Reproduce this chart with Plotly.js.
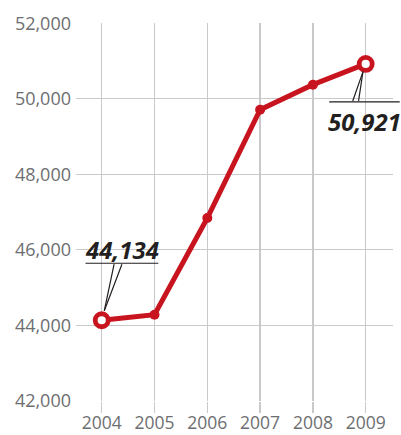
<!DOCTYPE html>
<html>
<head>
<meta charset="utf-8">
<script src="https://cdn.plot.ly/plotly-3.0.1.min.js"></script>
<style>html,body{margin:0;padding:0;background:#fff;}#chart{width:401px;height:435px;}</style>
</head>
<body>
<div id="chart"></div>
<script>
const years = [2004, 2005, 2006, 2007, 2008, 2009];
const values = [44134, 44280, 46840, 49708, 50372, 50921];
const yTicks = [42000, 44000, 46000, 48000, 50000, 52000];

const red = '#c8141e';
const dark = '#231f20';
const grid = '#c9c9cb';
const tickGray = '#6d6e71';

const n = values.length;
const endX = [years[0], years[n - 1]];
const endY = [values[0], values[n - 1]];

const lineTrace = {
  x: years, y: values, type: 'scatter', mode: 'lines+markers',
  line: {color: red, width: 5},
  marker: {color: red, size: 10, opacity: 1},
  cliponaxis: false, hoverinfo: 'none'
};
const endTrace = {
  x: endX, y: endY, type: 'scatter', mode: 'markers',
  marker: {color: '#ffffff', size: 13, opacity: 1, line: {color: red, width: 4.8}},
  cliponaxis: false, hoverinfo: 'none'
};

const fmt = v => v.toLocaleString('en-US');
const lineAnn = (x, y, xs, ys, ax, ay) => ({
  x: x, y: y, xref: 'x', yref: 'y', text: ' ', font: {size: 1},
  showarrow: true, arrowhead: 0, arrowwidth: 1.2, arrowcolor: dark,
  ax: ax, ay: ay, xshift: xs, yshift: ys, standoff: 0, startstandoff: 0, borderpad: 0
});

const x0 = endX[0], y0 = endY[0], x1 = endX[1], y1 = endY[1];
const annotations = [
  {x: x0, y: y0, xref: 'x', yref: 'y', text: '<b><i>' + fmt(y0) + '</i></b>', showarrow: false,
   xshift: 20, yshift: 71, font: {family: 'Open Sans', size: 24, color: dark}},
  lineAnn(x0, y0, 56.6, 57, -73.3, 0),
  lineAnn(x0, y0, 2.6, 9.5, 10, -47.5),
  lineAnn(x0, y0, 2.6, 9.5, 18, -47.5),
  {x: x1, y: y1, xref: 'x', yref: 'y', text: '<b><i>' + fmt(y1) + '</i></b>', showarrow: false,
   xshift: -1, yshift: -58, font: {family: 'Open Sans', size: 24, color: dark}},
  lineAnn(x1, y1, 34, -38, -71, 0),
  lineAnn(x1, y1, -2.7, -7.7, -10.6, 30.3),
  lineAnn(x1, y1, -2.7, -7.7, -4.6, 30.3)
];

const layout = {
  width: 401, height: 435,
  margin: {l: 76, r: 8, t: 23, b: 34, pad: 0},
  paper_bgcolor: '#fff', plot_bgcolor: '#fff',
  showlegend: false,
  font: {family: 'Open Sans', color: tickGray, size: 18},
  xaxis: {
    range: [2003.513, 2009.517], tickvals: years, ticktext: years.map(String),
    showgrid: true, gridcolor: grid, gridwidth: 1.3,
    ticks: 'outside', ticklen: 11, tickcolor: grid, tickwidth: 1.3,
    ticklabelstandoff: -5, tickfont: {size: 17.5},
    showline: false, zeroline: false, fixedrange: true
  },
  yaxis: {
    range: [41995, 52005], tickvals: yTicks, ticktext: yTicks.map(fmt),
    showgrid: true, gridcolor: grid, gridwidth: 1.3,
    ticks: '', ticklabelstandoff: 4,
    showline: false, zeroline: false, fixedrange: true
  },
  annotations: annotations
};

Plotly.newPlot('chart', [lineTrace, endTrace], layout, {displayModeBar: false, staticPlot: true});
</script>
</body>
</html>
